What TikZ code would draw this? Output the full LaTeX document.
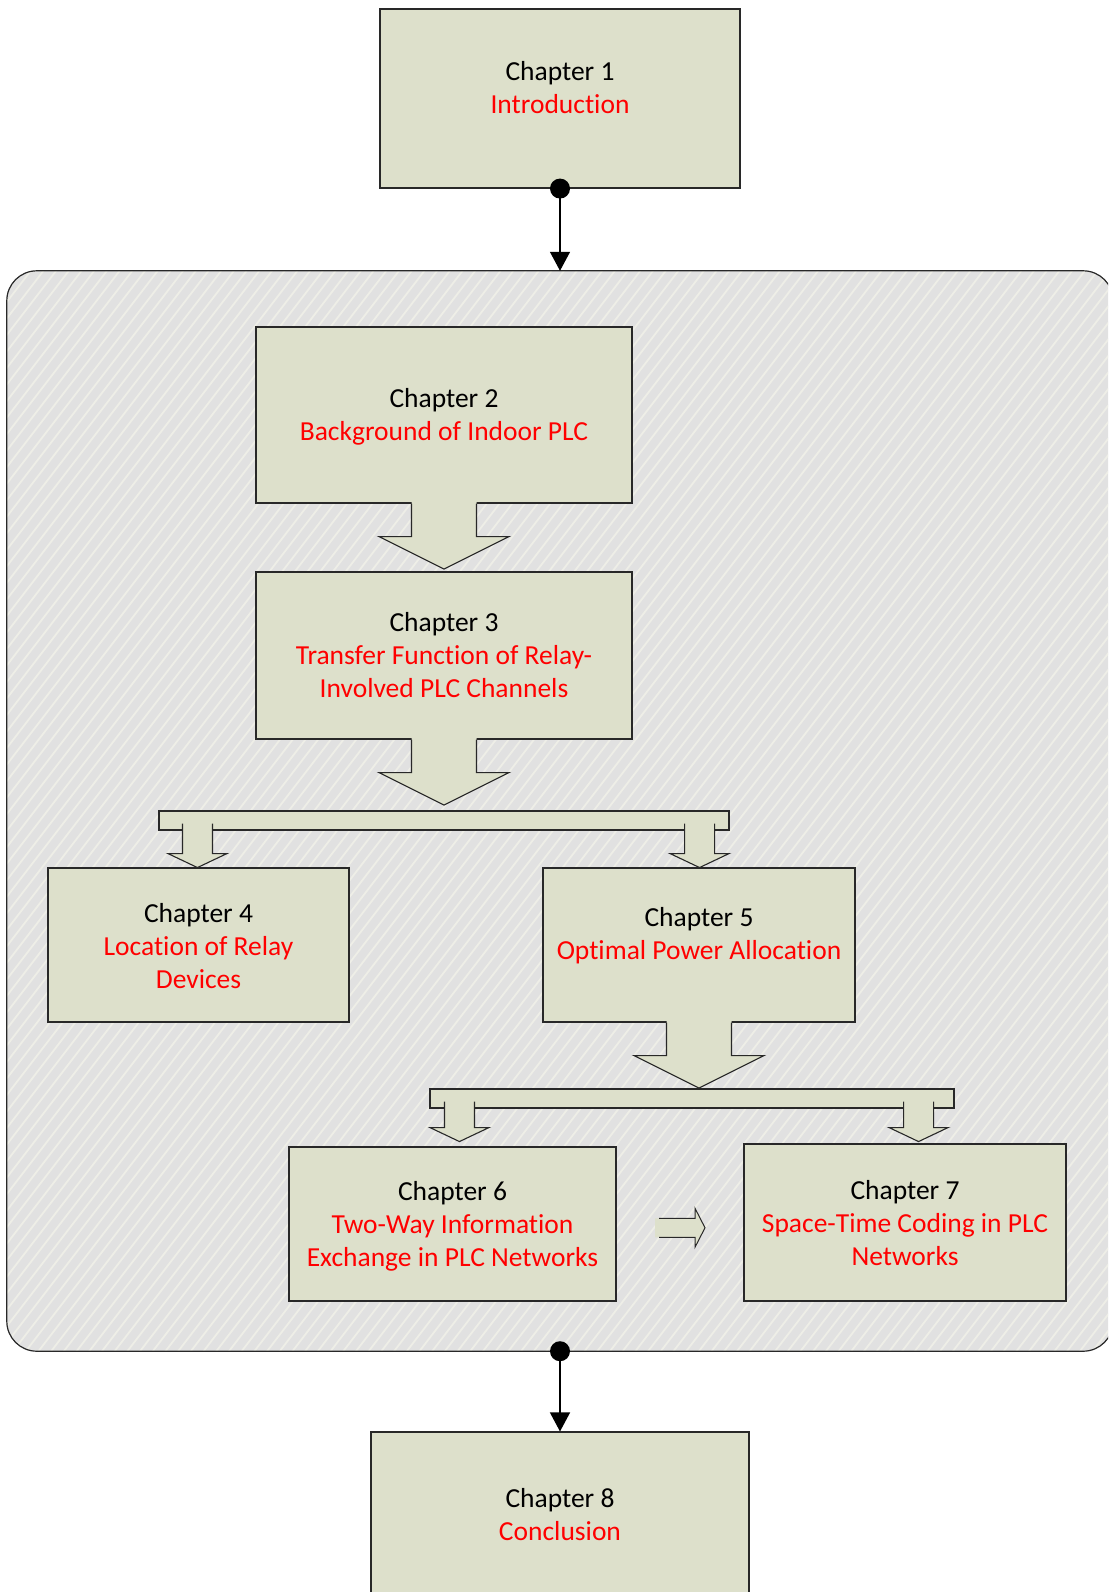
\documentclass[tikz,border=0pt]{standalone}
\usepackage{fontspec}
\setmainfont{Carlito}[Ligatures=CommonOff]
\usetikzlibrary{arrows.meta,calc}

\definecolor{boxfill}{RGB}{221,224,203}
\definecolor{groupfill}{RGB}{225,225,225}
\definecolor{stripe}{RGB}{238,238,231}
\definecolor{edge}{RGB}{40,40,40}
\definecolor{titlered}{RGB}{255,0,0}

\tikzset{
  chbox/.style={draw=edge, fill=boxfill, line width=1.1pt, inner sep=0pt, rectangle},
  chtext/.style={align=center, inner sep=0pt, font=\fontsize{27.5}{33}\selectfont},
  shapeline/.style={draw=edge, line width=1.1pt, line join=miter},
  link/.style={draw=black, line width=1.3pt, -{Triangle[length=19pt,width=20pt]}},
  % wide block arrow pointing down, hanging from a box edge
  pics/bigdown/.style={code={
    \fill[boxfill] (-32.5,-2) -- (-32.5,33) -- (-65,33) -- (0,65.5) -- (65,33) -- (32.5,33) -- (32.5,-2) -- cycle;
    \draw[shapeline] (-32.5,0) -- (-32.5,33) -- (-65,33) -- (0,65.5) -- (65,33) -- (32.5,33) -- (32.5,0);
  }},
  % narrow leg of a branching bar: #1 shoulder depth, #2 tip depth
  pics/smalldown/.style 2 args={code={
    \fill[boxfill] (-15,-7) -- (-15,#1) -- (-29.5,#1) -- (0,#2) -- (29.5,#1) -- (15,#1) -- (15,-7) -- cycle;
    \draw[shapeline] (-15,-7) -- (-15,#1) -- (-29.5,#1) -- (0,#2) -- (29.5,#1) -- (15,#1) -- (15,-7);
  }},
  % small block arrow pointing right
  pics/sideright/.style={code={
    \fill[boxfill] (-25,-9.5) -- (15,-9.5) -- (15,-19.5) -- (25,0) -- (15,19.5) -- (15,9.5) -- (-25,9.5) -- cycle;
    \draw[shapeline, line width=1pt] (-21,-9.5) -- (15,-9.5) -- (15,-19.5) -- (25,0) -- (15,19.5) -- (15,9.5) -- (-21,9.5);
  }},
}

\begin{document}
\begin{tikzpicture}[x=1pt,y=-1pt]
\useasboundingbox (0,0) rectangle (1108,1592);
\clip (0,0) rectangle (1108,1592);

% hatched group frame around chapters 2-7
\node[fill=groupfill, inner sep=0pt, minimum width=1106pt, minimum height=1080pt, rounded corners=30pt] (grp) at (560,811) {};
\begin{scope}
  \clip[rounded corners=30pt] (grp.north west) rectangle (grp.south east);
  \foreach \s in {-870,-857.3,...,1130}
    \draw[stripe, line width=1.8pt] (\s,1360) -- (\s+844,262);
\end{scope}
\draw[edge, line width=1.2pt, rounded corners=30pt] (grp.north west) rectangle (grp.south east);

% chapter boxes
\node[chbox, minimum width=360pt, minimum height=179pt] (c1) at (560,98.5) {};
\node[chtext] (t1) at (560,88) {Chapter 1\\\textcolor{titlered}{Introduction}};

\node[chbox, minimum width=376pt, minimum height=176pt] (c2) at (444,415) {};
\node[chtext] (t2) at (444,417) {Chapter 2\\\textcolor{titlered}{Background of Indoor PLC}};

\node[chbox, minimum width=376pt, minimum height=167pt] (c3) at (444,655.5) {};
\node[chtext] (t3) at (c3.center) {Chapter 3\\\textcolor{titlered}{Transfer Function of Relay-}\\\textcolor{titlered}{Involved PLC Channels}};

\node[chbox, minimum width=301pt, minimum height=154pt] (c4) at (198.5,945) {};
\node[chtext] (t4) at (198.5,946) {Chapter 4\\\textcolor{titlered}{Location of Relay}\\\textcolor{titlered}{Devices}};

\node[chbox, minimum width=312pt, minimum height=154pt] (c5) at (699,945) {};
\node[chtext] (t5) at (699,936) {Chapter 5\\\textcolor{titlered}{Optimal Power Allocation}};

\node[chbox, minimum width=327pt, minimum height=154pt] (c6) at (452.5,1224) {};
\node[chtext] (t6) at (452.5,1226) {Chapter 6\\\textcolor{titlered}{Two-Way Information}\\\textcolor{titlered}{Exchange in PLC Networks}};

\node[chbox, minimum width=322pt, minimum height=157pt] (c7) at (905,1222.5) {};
\node[chtext] (t7) at (905,1223) {Chapter 7\\\textcolor{titlered}{Space-Time Coding in PLC}\\\textcolor{titlered}{Networks}};

\node[chbox, minimum width=378pt, minimum height=180pt] (c8) at (560,1522) {};
\node[chtext] (t8) at (560,1515) {Chapter 8\\\textcolor{titlered}{Conclusion}};

% block arrows between chapters
\pic at (c2.south) {bigdown};
\pic at (c3.south) {bigdown};
\pic at (c5.south) {bigdown};

% branching bars
\node[chbox, minimum width=570pt, minimum height=19pt] (bar1) at (444,820.5) {};
\pic at ($(bar1.south west)+(39,0)$) {smalldown={23}{37}};
\pic at ($(bar1.south east)+(-30,0)$) {smalldown={23}{37}};

\node[chbox, minimum width=524pt, minimum height=19pt] (bar2) at (692,1098.5) {};
\pic at ($(bar2.south west)+(30,0)$) {smalldown={19}{33}};
\pic at ($(bar2.south east)+(-36,0)$) {smalldown={19}{33}};

% chapter 6 leads into chapter 7
\pic at ($(c6.east)!0.5!(c7.west)+(0,4.5)$) {sideright};

% entry and exit of the group
\draw[link] (c1.south) -- (c1.south |- grp.north);
\fill[black] (c1.south) circle (10pt);
\draw[link] (grp.south) -- (grp.south |- c8.north);
\fill[black] (grp.south) circle (10pt);
\end{tikzpicture}
\end{document}
